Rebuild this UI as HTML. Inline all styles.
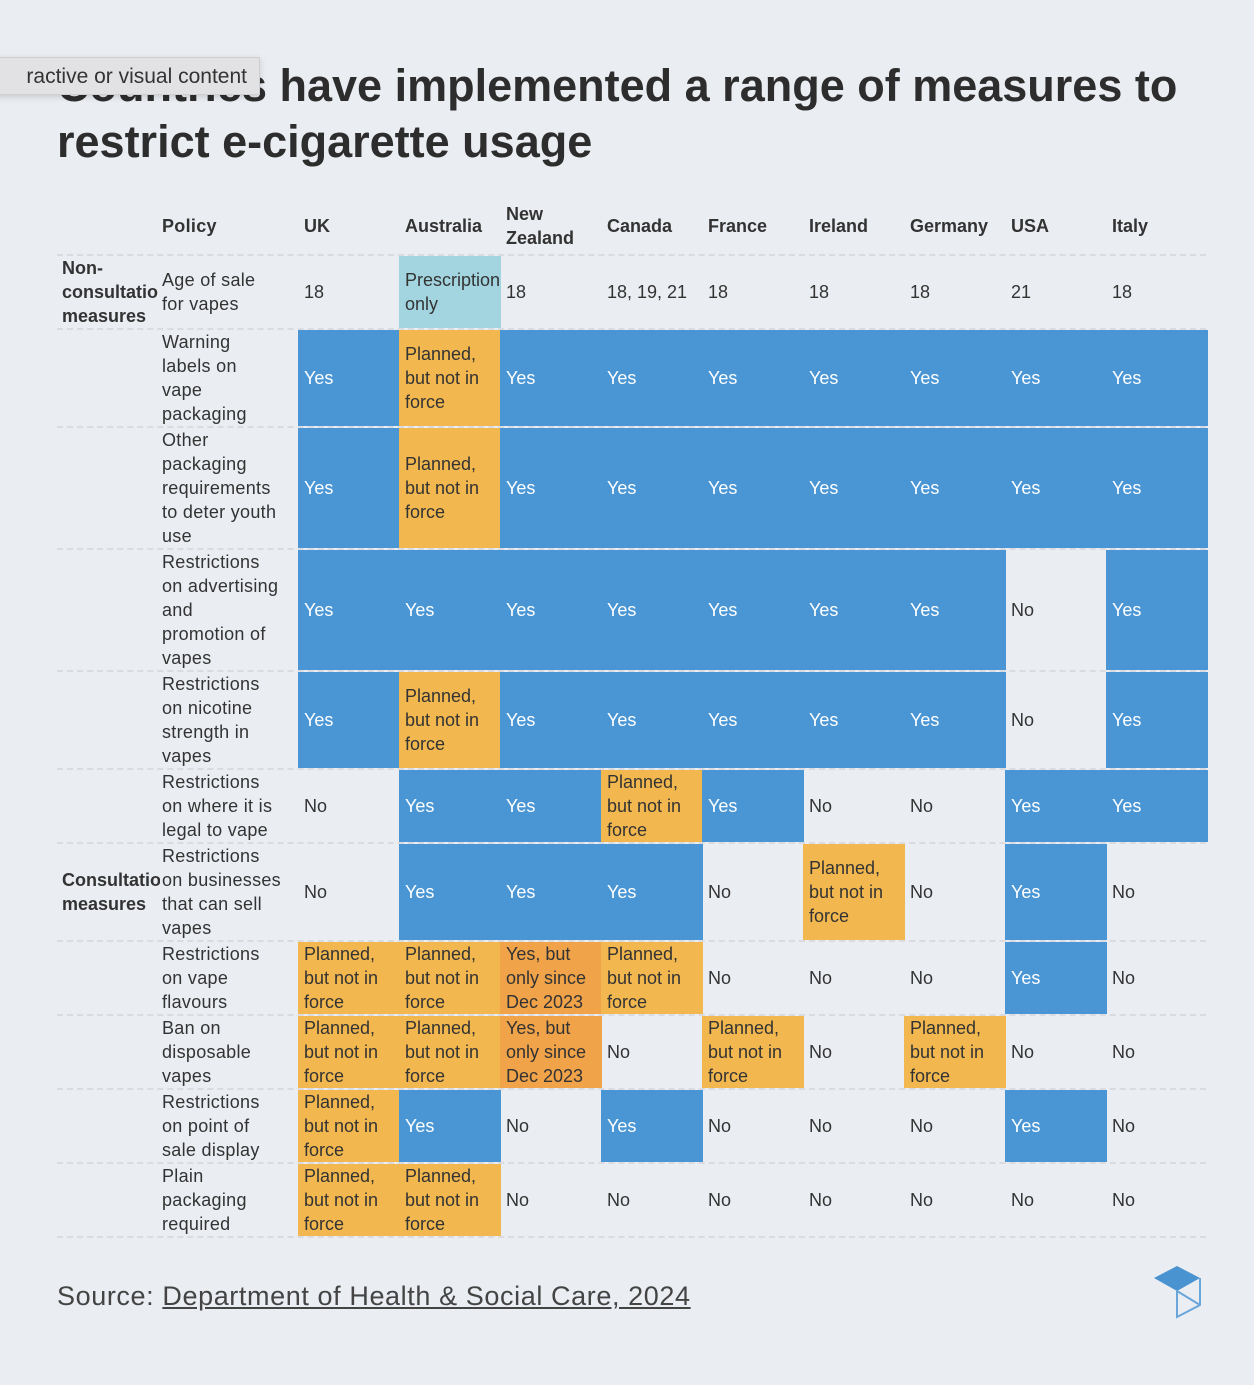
<!DOCTYPE html>
<html><head><meta charset="utf-8">
<style>
body{margin:0;background:#fff;font-family:"Liberation Sans",sans-serif;}
#page{position:absolute;left:0;top:0;width:1254px;height:1385px;background:#eaedf2;overflow:hidden;}
h1{position:absolute;left:57px;top:58px;margin:0;font-size:45px;line-height:56px;font-weight:bold;color:#2d2d2d;letter-spacing:0px;width:1190px;}
.tip{position:absolute;left:-10px;top:57px;height:38px;width:270px;background:#e2e2e4;border:1px solid #cfcfd2;box-shadow:0 2px 6px rgba(0,0,0,.15);font-size:21px;line-height:38px;color:#333;text-align:right;padding-right:12px;box-sizing:border-box;}
.c{position:absolute;box-sizing:border-box;padding:0 6px;font-size:18px;line-height:24px;color:#333;display:flex;align-items:center;overflow:hidden;white-space:normal;}
.pl{padding:0 2px;white-space:pre-line;letter-spacing:0.3px;}
.h{font-weight:bold;}
.line{position:absolute;left:57px;width:1149px;border-top:2px dashed #d9dbe0;height:0;}
.src{position:absolute;left:57px;top:1281px;font-size:27px;letter-spacing:0.6px;color:#444;}
.src u{text-decoration:underline;}
</style></head><body>
<div id="page">
<h1>Countries have implemented a range of measures to restrict e-cigarette usage</h1>
<div class="tip">ractive or visual content</div>
<div id="tbl"></div>
<div class="src">Source: <u>Department of Health &amp; Social Care, 2024</u></div>
<svg style="position:absolute;left:1150px;top:1262px" width="56" height="60">
<polygon points="4,16 27,4 50,16 27,29" fill="#4a93d1"/>
<polyline points="27,29 27,55 50,43 50,16" fill="none" stroke="#6aa6da" stroke-width="2"/>
<line x1="27" y1="29" x2="50" y2="43" stroke="#6aa6da" stroke-width="2"/>
</svg>
</div>
<script>
const countries=["UK","Australia","New Zealand","Canada","France","Ireland","Germany","USA","Italy"];
const policies=["Age of sale\nfor vapes","Warning\nlabels on\nvape\npackaging","Other\npackaging\nrequirements\nto deter youth\nuse","Restrictions\non advertising\nand\npromotion of\nvapes","Restrictions\non nicotine\nstrength in\nvapes","Restrictions\non where it is\nlegal to vape","Restrictions\non businesses\nthat can sell\nvapes","Restrictions\non vape\nflavours","Ban on\ndisposable\nvapes","Restrictions\non point of\nsale display","Plain\npackaging\nrequired"];
const P="Planned, but not in force",S="Yes, but only since Dec 2023";
const values=[
["18","Prescription only","18","18, 19, 21","18","18","18","21","18"],
["Yes",P,"Yes","Yes","Yes","Yes","Yes","Yes","Yes"],
["Yes",P,"Yes","Yes","Yes","Yes","Yes","Yes","Yes"],
["Yes","Yes","Yes","Yes","Yes","Yes","Yes","No","Yes"],
["Yes",P,"Yes","Yes","Yes","Yes","Yes","No","Yes"],
["No","Yes","Yes",P,"Yes","No","No","Yes","Yes"],
["No","Yes","Yes","Yes","No",P,"No","Yes","No"],
[P,P,S,P,"No","No","No","Yes","No"],
[P,P,S,"No",P,"No",P,"No","No"],
[P,"Yes","No","Yes","No","No","No","Yes","No"],
[P,P,"No","No","No","No","No","No","No"]];
const rowTops=[255,329,427,549,671,769,843,941,1015,1089,1163,1237];
const tbl=document.getElementById('tbl');
const colX=i=>298+i*101;
function cell(x,y,w,h,txt,cls){const d=document.createElement('div');d.className='c '+(cls||'');d.style.left=x+'px';d.style.top=y+'px';d.style.width=w+'px';d.style.height=h+'px';d.textContent=txt;tbl.appendChild(d);return d;}
let d=cell(160,200,138,52,"Policy","h pl");


countries.forEach((c,i)=>{const e=cell(colX(i),200,101,52,c,"h");

});
rowTops.forEach(t=>{const l=document.createElement('div');l.className='line';l.style.top=(t-1)+'px';tbl.appendChild(l);

});
let g=cell(57,255,103,74,"","h");g.style.whiteSpace='nowrap';g.style.paddingLeft='5px';g.innerHTML='Non-<br>consultatio<br>measures';


let g2=cell(57,843,103,98,"","h");g2.style.whiteSpace='nowrap';g2.style.paddingLeft='5px';g2.innerHTML='Consultatio<br>measures';


policies.forEach((p,r)=>{const y=rowTops[r]+1,h=rowTops[r+1]-rowTops[r]-2;
const pc=cell(160,y,138,h,p,"pl");


values[r].forEach((v,i)=>{let bg=null,col='#333';
if(v==="Yes"){bg='#4a96d5';col='#fff';}
else if(v===P)bg='#f2b84f';
else if(v===S)bg='#f0a349';
else if(v==="Prescription only")bg='#a2d5df';
const e=cell(colX(i),y,101,h,v);
if(bg){e.style.background=bg;e.style.width='102px';}
e.style.color=col;

});});
</script>
</body></html>
